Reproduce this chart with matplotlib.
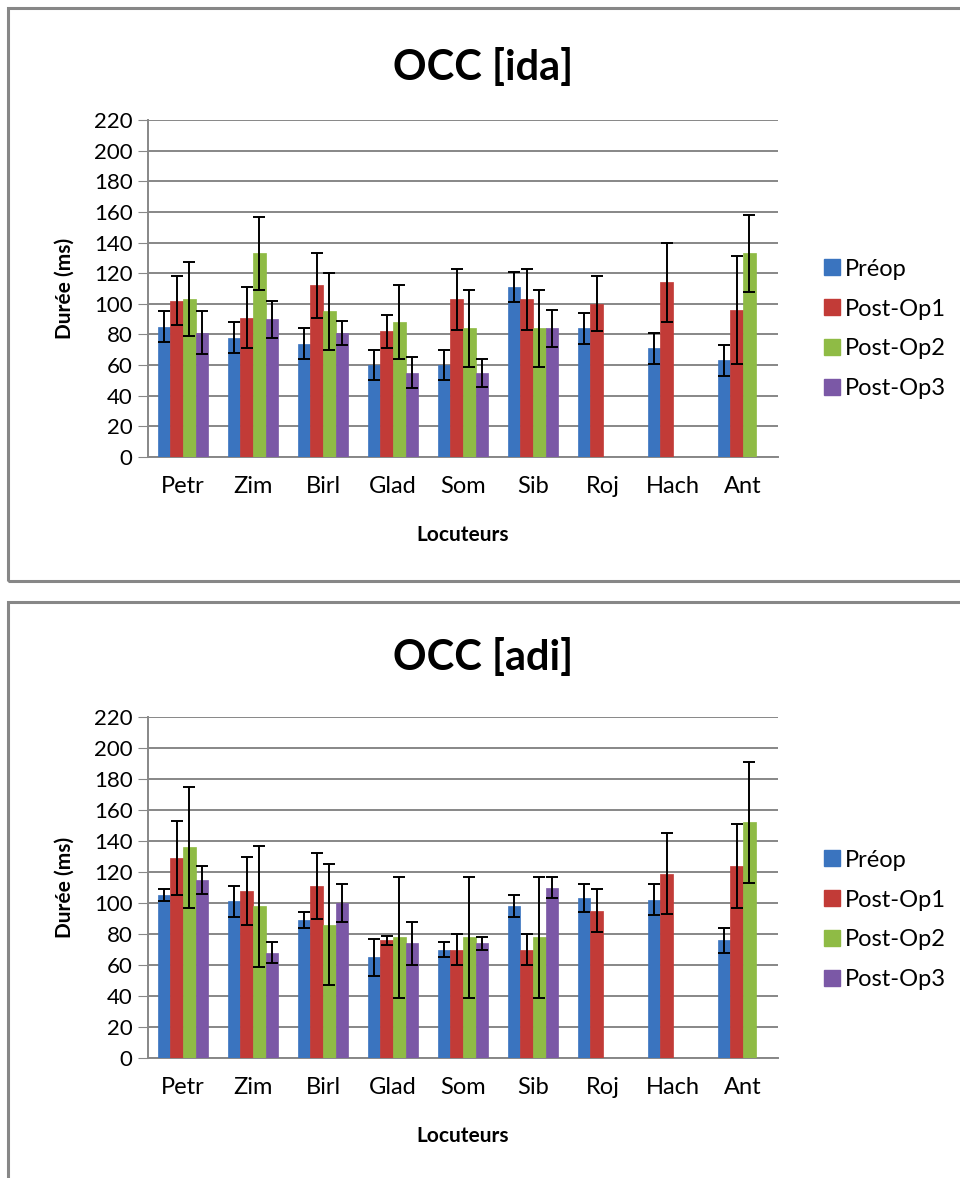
import numpy as np
import matplotlib
matplotlib.use('agg')
import matplotlib.pyplot as plt
from matplotlib.patches import Rectangle
from matplotlib.lines import Line2D

plt.rcParams['font.family'] = ['Lato', 'DejaVu Sans']

speakers = ["Petr", "Zim", "Birl", "Glad", "Som", "Sib", "Roj", "Hach", "Ant"]
series = ["Préop", "Post-Op1", "Post-Op2", "Post-Op3"]
colors = ["#3a74bf", "#c23b37", "#8fbb45", "#7b58a6"]

# OCC [ida] - means and error bars (nan = no data)
ida_preop = [85, 78, 74, 60, 60, 111, 84, 71, 63]
ida_post1 = [102, 91, 112, 82, 103, 103, 100, 114, 96]
ida_post2 = [103, 133, 95, 88, 84, 84, np.nan, np.nan, 133]
ida_post3 = [81, 90, 81, 55, 55, 84, np.nan, np.nan, np.nan]
ida_err_preop = [10, 10, 10, 10, 10, 10, 10, 10, 10]
ida_err_post1 = [16, 20, 21, 11, 20, 20, 18, 26, 35]
ida_err_post2 = [24, 24, 25, 24, 25, 25, np.nan, np.nan, 25]
ida_err_post3 = [14, 12, 8, 10, 9, 12, np.nan, np.nan, np.nan]

# OCC [adi]
adi_preop = [105, 101, 89, 65, 70, 98, 103, 102, 76]
adi_post1 = [129, 108, 111, 76, 70, 70, 95, 119, 124]
adi_post2 = [136, 98, 86, 78, 78, 78, np.nan, np.nan, 152]
adi_post3 = [115, 68, 100, 74, 74, 110, np.nan, np.nan, np.nan]
adi_err_preop = [4, 10, 5, 12, 5, 7, 9, 10, 8]
adi_err_post1 = [24, 22, 21, 3, 10, 10, 14, 26, 27]
adi_err_post2 = [39, 39, 39, 39, 39, 39, np.nan, np.nan, 39]
adi_err_post3 = [9, 7, 12, 14, 4, 7, np.nan, np.nan, np.nan]

W, H = 960, 1178
fig = plt.figure(figsize=(W / 100, H / 100), dpi=100)

# chart frames
for (y0, y1) in [(8, 581), (602, 1190)]:
    fig.patches.append(Rectangle((8 / W, 1 - y1 / H), 1.0, (y1 - y0) / H,
                                 transform=fig.transFigure, fill=False,
                                 edgecolor="#878787", lw=2.2))


def draw_chart(ytop, ybot, title, title_y, legend_y, means, errs):
    ax = fig.add_axes([148 / W, 1 - ybot / H, 630 / W, (ybot - ytop) / H])
    x = np.arange(len(speakers))
    bw = 0.18
    for i, (m, e) in enumerate(zip(means, errs)):
        pos = x + (i - 1.5) * bw
        ax.bar(pos, m, bw, color=colors[i], edgecolor=colors[i], lw=0.5,
               label=series[i], zorder=3)
        ax.errorbar(pos, m, yerr=e, fmt="none", ecolor="black", elinewidth=1.4,
                    capsize=4.5, capthick=1.4, zorder=4)
    ax.set_xlim(-0.5, len(speakers) - 0.5)
    ax.set_ylim(0, 220)
    ax.set_yticks(np.arange(0, 221, 20))
    ax.set_xticks(x)
    ax.set_xticklabels(speakers, fontsize=17)
    ax.tick_params(axis="x", length=0, pad=14)
    ax.tick_params(axis="y", length=7, color="#878787", labelsize=16, pad=4)
    ax.yaxis.grid(True, color="#878787", lw=1.4, zorder=0)
    ax.set_axisbelow(True)
    for s in ["top", "right"]:
        ax.spines[s].set_visible(False)
    ax.spines["left"].set_color("#878787")
    ax.spines["bottom"].set_color("#878787")
    ax.spines["left"].set_linewidth(1.4)
    ax.spines["bottom"].set_linewidth(1.4)
    ax.set_ylabel("Durée (ms)", fontsize=15, fontweight="bold", labelpad=14)
    ax.set_xlabel("Locuteurs", fontsize=15, fontweight="bold", labelpad=20)
    fig.text(483 / W, 1 - title_y / H, title, fontsize=30, fontweight="bold",
             ha="center", va="center")
    handles = [Line2D([], [], marker="s", ls="none", markersize=11,
                      markerfacecolor=c, markeredgecolor=c) for c in colors]
    ax.legend(handles, series, loc="center left",
              bbox_to_anchor=(1.05, (ybot - legend_y) / (ybot - ytop)),
              frameon=False, fontsize=17, labelspacing=0.8, handletextpad=0.1,
              handlelength=0.9, borderpad=0)
    return ax


draw_chart(120, 457, "OCC [ida]", 68, 329,
           [ida_preop, ida_post1, ida_post2, ida_post3],
           [ida_err_preop, ida_err_post1, ida_err_post2, ida_err_post3])
draw_chart(717, 1058, "OCC [adi]", 657, 920,
           [adi_preop, adi_post1, adi_post2, adi_post3],
           [adi_err_preop, adi_err_post1, adi_err_post2, adi_err_post3])

fig.savefig("out.png", dpi=100)
